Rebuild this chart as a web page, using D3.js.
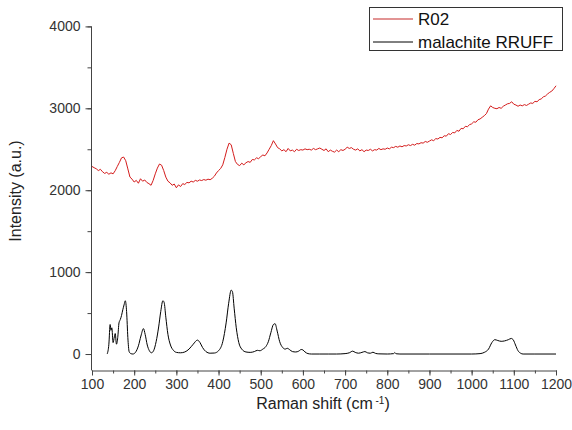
<!DOCTYPE html>
<html><head><meta charset="utf-8">
<script src="https://cdn.jsdelivr.net/npm/d3@7/dist/d3.min.js"></script>
<style>
html,body{margin:0;padding:0;background:#fff;}
svg{display:block;font-family:"Liberation Sans",Arial,sans-serif;}
</style></head>
<body><svg id="chart" width="572" height="430"></svg>
<script>
// ---- data ----
const seriesNames = ["R02", "malachite RRUFF"];
const xTickValues = [100,200,300,400,500,600,700,800,900,1000,1100,1200];
const yTickValues = [0,1000,2000,3000,4000];

// R02 spectrum sampled every 5 cm-1 from 100 to 1200
const r02Start = 100, r02Step = 5;
const r02Values = [
 2290,2275,2262,2240,2255,2225,2205,2218,2195,2212,2200,2238,2290,2340,2395,2405,2360,2260,2160,2135,
 2100,2120,2085,2140,2110,2125,2095,2080,2060,2120,2200,2270,2320,2305,2240,2160,2110,2090,2060,2075,
 2030,2065,2045,2080,2070,2095,2090,2110,2100,2120,2110,2125,2118,2130,2122,2135,2128,2145,2170,2210,
 2240,2265,2310,2400,2500,2575,2555,2450,2350,2315,2300,2330,2310,2335,2350,2340,2375,2370,2395,2385,
 2410,2430,2420,2455,2500,2545,2605,2565,2520,2505,2480,2495,2470,2510,2480,2490,2470,2500,2485,2495,
 2490,2505,2495,2500,2490,2510,2495,2505,2515,2500,2485,2505,2470,2490,2475,2465,2490,2470,2495,2485,
 2500,2525,2510,2520,2500,2490,2505,2480,2495,2470,2490,2485,2500,2480,2495,2490,2510,2495,2505,2500,
 2515,2505,2525,2520,2535,2525,2540,2530,2545,2540,2555,2545,2560,2550,2570,2565,2580,2575,2595,2585,
 2600,2615,2605,2630,2625,2645,2640,2665,2660,2690,2680,2705,2700,2730,2720,2755,2750,2780,2775,2800,
 2810,2835,2830,2860,2870,2890,2910,2935,2990,3030,3010,3000,2995,3010,3000,3025,3040,3055,3060,3080,
 3050,3040,3025,3040,3030,3045,3035,3050,3065,3060,3085,3080,3105,3115,3140,3150,3175,3195,3210,3240,3275
];

// malachite RRUFF reference spectrum
const malX = [136,140,143,145,147,150,153,155,158,161,164,167,170,173,176,179,182,185,188,192,197,203,210,216,222,226,231,236,241,246,252,258,263,268,271,275,280,286,293,300,310,320,330,340,350,356,362,370,380,390,400,410,418,424,430,433,437,442,448,455,465,475,485,492,498,505,512,518,524,530,534,539,545,552,558,563,568,575,583,590,596,600,605,612,620,640,660,680,700,710,718,724,732,740,747,753,760,766,772,780,800,815,818,821,830,900,1000,1020,1030,1040,1048,1055,1062,1070,1078,1087,1094,1099,1104,1110,1116,1122,1150,1200];
const malY = [0,120,360,290,320,140,210,250,120,200,380,420,470,540,600,650,520,200,30,5,0,20,100,220,310,240,110,40,15,40,150,330,520,650,630,450,240,110,45,20,15,25,60,120,170,140,80,30,10,12,40,150,380,620,780,760,560,320,140,60,25,20,30,45,40,60,90,150,260,360,370,280,150,80,60,70,55,30,25,35,55,50,25,5,0,0,0,0,5,15,35,20,10,20,30,15,10,22,8,2,0,5,18,3,0,0,0,5,20,60,140,175,165,155,160,175,190,170,110,40,10,0,0,0];

const seriesColors = ["#d41c1c", "#000000"];

// ---- chart ----
const svg = d3.select("#chart");
const x = d3.scaleLinear().domain([100,1200]).range([92,556]);
const y = d3.scaleLinear().domain([-200,4000]).range([370.4,26.4]);

const axisColor = "#444";
const labelColor = "#333";

// X axis
const xAxisG = svg.append("g").attr("transform","translate(0,370.5)");
xAxisG.call(d3.axisBottom(x).tickValues(d3.range(100,1201,50)).tickSize(3).tickFormat(""));
xAxisG.call(g=>{g.select(".domain").attr("stroke",axisColor);g.selectAll(".tick line").attr("stroke",axisColor);});
const xAxisMajor = svg.append("g").attr("transform","translate(0,370.5)");
xAxisMajor.call(d3.axisBottom(x).tickValues(xTickValues).tickSize(5).tickPadding(4).tickFormat(d3.format("d")));
xAxisMajor.call(g=>{
  g.select(".domain").remove();
  g.selectAll(".tick line").attr("stroke",axisColor);
  g.selectAll(".tick text").attr("fill",labelColor).attr("font-size","14px").attr("font-family","'Liberation Sans',Arial,sans-serif");
});

// Y axis
const yAxisG = svg.append("g").attr("transform","translate(91.5,0)");
yAxisG.call(d3.axisLeft(y).tickValues(d3.range(0,4001,500)).tickSize(4).tickFormat(""));
yAxisG.call(g=>{g.select(".domain").attr("stroke",axisColor).attr("d","M0,"+y(4000)+"V"+y(-200));g.selectAll(".tick line").attr("stroke",axisColor);});
const yAxisMajor = svg.append("g").attr("transform","translate(91.5,0)");
yAxisMajor.call(d3.axisLeft(y).tickValues(yTickValues).tickSize(6).tickPadding(5).tickFormat(d3.format("d")));
yAxisMajor.call(g=>{
  g.select(".domain").remove();
  g.selectAll(".tick line").attr("stroke",axisColor);
  g.selectAll(".tick text").attr("fill",labelColor).attr("font-size","14px").attr("font-family","'Liberation Sans',Arial,sans-serif");
});

// axis titles
svg.append("text").attr("transform","translate(21,191) rotate(-90)")
  .attr("text-anchor","middle").attr("font-size","16px").attr("fill","#222")
  .text("Intensity (a.u.)");
const xt = svg.append("text").attr("x",323).attr("y",409).attr("text-anchor","middle")
  .attr("font-size","16px").attr("fill","#222");
xt.append("tspan").text("Raman shift (cm");
xt.append("tspan").attr("dy","-5").attr("font-size","10px").text(" -1");
xt.append("tspan").attr("dy","5").text(")");

// lines
const r02 = r02Values.map((v,i)=>({x:r02Start+i*r02Step,y:v}));
const mal = malX.map((v,i)=>({x:v,y:malY[i]}));
const line = d3.line().x(d=>x(d.x)).y(d=>y(d.y));
const smooth = d3.line().x(d=>x(d.x)).y(d=>y(d.y)).curve(d3.curveMonotoneX);

svg.append("path").datum(r02).attr("d",line).attr("fill","none")
  .attr("stroke",seriesColors[0]).attr("stroke-width",1);
svg.append("path").datum(mal).attr("d",smooth).attr("fill","none")
  .attr("stroke",seriesColors[1]).attr("stroke-width",1);

// legend
const lg = svg.append("g");
lg.append("rect").attr("x",369.5).attr("y",7.5).attr("width",193).attr("height",43)
  .attr("fill","#fff").attr("stroke","#333").attr("stroke-width",1);
seriesNames.forEach((n,i)=>{
  const yy = 19 + i*23;
  lg.append("line").attr("x1",373).attr("x2",413).attr("y1",yy).attr("y2",yy)
    .attr("stroke",i===0?"#d97070":seriesColors[i]).attr("stroke-width",i===0?1.5:1);
  lg.append("text").attr("x",418).attr("y",yy+6).attr("font-size","17px").attr("fill","#111").text(n);
});
</script></body></html>
